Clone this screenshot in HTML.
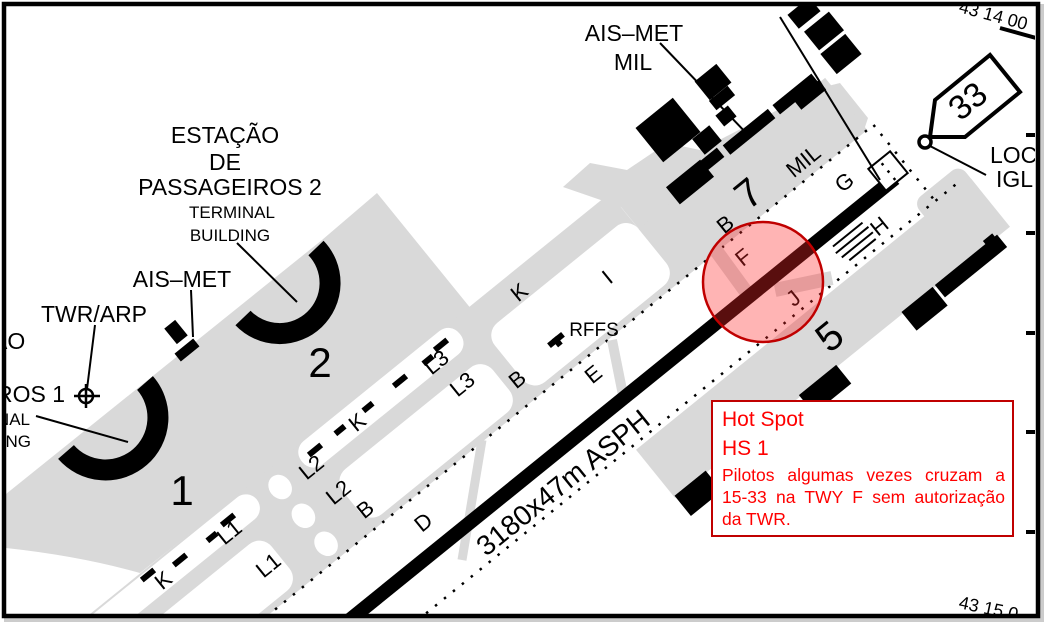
<!DOCTYPE html>
<html><head><meta charset="utf-8"><style>
html,body{margin:0;padding:0;background:#fff;}
body{width:1046px;height:623px;position:relative;overflow:hidden;font-family:"Liberation Sans",sans-serif;}
svg{position:absolute;left:0;top:0;}
.box{position:absolute;left:711px;top:400px;width:303px;height:137px;border:2.5px solid #c00000;background:#fff;color:#ff0000;box-sizing:border-box;overflow:hidden;}
.box .t{font-size:21px;line-height:21px;position:absolute;left:9px;}
.box .l{position:absolute;left:9px;width:283px;font-size:17.5px;line-height:19px;text-align:justify;text-align-last:justify;white-space:nowrap;}
</style></head><body>
<svg width="1046" height="623" viewBox="0 0 1046 623" font-family="Liberation Sans, sans-serif">
<defs><clipPath id="c"><rect x="6" y="6" width="1029" height="608"/></clipPath></defs>
<rect x="4" y="4" width="1040" height="618" fill="#9a9a9a" opacity="0.5"/>
<rect x="2" y="2" width="1038" height="616" fill="#fff"/>
<g clip-path="url(#c)">
<path d="M322,240 L377,193 L472,310 L140,573 Q80,556 6,548 L6,494 Z" fill="#d9d9d9"/>
<path d="M563,187 L590,163 L627,170 L667,143 L700,150 L820,88 L840,83 L868,118 L863,133 L681,281 L621,207 Z" fill="#d9d9d9"/>
<g transform="translate(762,286) rotate(-39)">
 <rect x="-950" y="-168" width="890" height="113" fill="#d9d9d9"/>
 <rect x="-70" y="-122" width="250" height="67" fill="#d9d9d9"/>
 <rect x="-201" y="48" width="431" height="62" fill="#d9d9d9"/>
 <rect x="170" y="30" width="60" height="40" fill="#d9d9d9" rx="10"/>
 <rect x="-950" y="-166" width="423" height="28" rx="14" fill="#fff"/>
 <rect x="-468" y="-168" width="203" height="30" rx="14" fill="#fff"/>
 <rect x="-950" y="-122" width="405" height="60" rx="16" fill="#fff"/>
 <rect x="-455" y="-120" width="193" height="58" rx="16" fill="#fff"/>
 <rect x="-245" y="-138" width="185" height="76" rx="16" fill="#fff"/>
 <ellipse cx="-501" cy="-147" rx="11" ry="13" fill="#fff"/>
 <ellipse cx="-501" cy="-110" rx="11" ry="13" fill="#fff"/>
 <ellipse cx="-501" cy="-74" rx="11" ry="13" fill="#fff"/>
 <line x1="-950" y1="-55" x2="182" y2="-55" stroke="#000" stroke-width="2.5" stroke-dasharray="2.5 9"/>
 <line x1="-950" y1="43" x2="215" y2="43" stroke="#000" stroke-width="2.5" stroke-dasharray="2.5 9"/>
 <line x1="188" y1="-55" x2="188" y2="45" stroke="#000" stroke-width="2.5" stroke-dasharray="2.5 9"/>
 <rect x="-200" y="108" width="40" height="26" fill="#000"/>
 <rect x="-40" y="108" width="48" height="24" fill="#000"/>
 <rect x="92" y="108" width="40" height="24" fill="#000"/>
 <rect x="135" y="108" width="80" height="16" fill="#000"/>
 <rect x="200" y="104" width="12" height="10" fill="#000"/>
 <rect x="-8" y="-136" width="60" height="12" fill="#000"/>
 <rect x="58" y="-134" width="58" height="12" fill="#000"/>
 <rect x="122" y="-134" width="50" height="12" fill="#000"/>
 <line x1="80" y1="14" x2="118" y2="14" stroke="#000" stroke-width="2"/>
 <line x1="78" y1="21" x2="120" y2="21" stroke="#000" stroke-width="2"/>
 <line x1="80" y1="28" x2="120" y2="28" stroke="#000" stroke-width="2"/>
 <line x1="84" y1="35" x2="118" y2="35" stroke="#000" stroke-width="2"/>
</g>
<line x1="752" y1="300" x2="712" y2="245" stroke="#d9d9d9" stroke-width="14"/>
<line x1="775" y1="290" x2="832" y2="278" stroke="#d9d9d9" stroke-width="14"/>
<line x1="624" y1="400" x2="612" y2="340" stroke="#d9d9d9" stroke-width="10"/>
<line x1="482" y1="440" x2="462" y2="560" stroke="#d9d9d9" stroke-width="9"/>
<g transform="translate(762,286) rotate(-39)"><rect x="-950" y="-7" width="1121" height="14" fill="#000"/></g>
<g transform="translate(888,171) rotate(-39)">
 <rect x="-14" y="-14" width="28" height="28" fill="#fff" stroke="#000" stroke-width="2"/>
 <line x1="0" y1="-10" x2="0" y2="12" stroke="#000" stroke-width="2.5" stroke-dasharray="2.5 7"/>
</g>
<g fill="#000">
 <g transform="translate(668,130) rotate(-39)"><rect x="-24" y="-22" width="48" height="44"/></g>
 <g transform="translate(707,140) rotate(-39)"><rect x="-11" y="-10" width="22" height="20"/></g>
 <g transform="translate(713,82) rotate(-39)"><rect x="-14" y="-12" width="28" height="24"/></g>
 <g transform="translate(722,98) rotate(-39)"><rect x="-12" y="-6" width="24" height="12"/></g>
 <g transform="translate(726,116) rotate(-39)"><rect x="-8" y="-7" width="16" height="14"/></g>
 <g transform="translate(690,182) rotate(-39)"><rect x="-22" y="-11" width="44" height="22"/></g>
 <g transform="translate(804,13) rotate(-39)"><rect x="-14" y="-9" width="28" height="18"/></g>
 <g transform="translate(824,31) rotate(-39)"><rect x="-16" y="-12" width="32" height="24"/></g>
 <g transform="translate(841,54) rotate(-39)"><rect x="-16" y="-13" width="32" height="26"/></g>
 <g transform="translate(810,95) rotate(-39)"><rect x="-16" y="-6" width="32" height="12"/></g>
</g>
<line x1="780" y1="17" x2="880" y2="180" stroke="#000" stroke-width="2"/>
<line x1="660" y1="43" x2="750" y2="137" stroke="#000" stroke-width="2"/>
<path d="M935,100 L990,55 L1020,92 L965,137 L930,137 Z" fill="#fff" stroke="#000" stroke-width="4"/>
<circle cx="925" cy="142" r="6" fill="#fff" stroke="#000" stroke-width="3.5"/>
<line x1="930" y1="146" x2="986" y2="175" stroke="#000" stroke-width="2"/>
<text transform="translate(975,110) rotate(-39)" font-size="34" text-anchor="middle">33</text>
<line x1="1000" y1="28" x2="1036" y2="38" stroke="#000" stroke-width="4"/>
<text transform="translate(958,12) rotate(15)" font-size="18">43 14 00</text>
<text transform="translate(958,608) rotate(12)" font-size="18">43 15 0</text>
<g stroke="#000" stroke-width="4">
 <line x1="1026" y1="135" x2="1036" y2="135"/><line x1="1026" y1="233" x2="1036" y2="233"/>
 <line x1="1026" y1="333" x2="1036" y2="333"/><line x1="1026" y1="432" x2="1036" y2="432"/>
 <line x1="1026" y1="532" x2="1036" y2="532"/>
</g>
<path d="M316,248 A47,47 0 1,1 243,318" fill="none" stroke="#000" stroke-width="21"/>
<path d="M145,383 A49,49 0 1,1 66,452" fill="none" stroke="#000" stroke-width="21"/>
<g transform="translate(176,332) rotate(-39)"><rect x="-7" y="-10" width="14" height="20" fill="#000"/></g>
<g transform="translate(187,350) rotate(-39)"><rect x="-12" y="-5" width="24" height="10" fill="#000"/></g>
<g fill="#000">
 <g transform="translate(441,345) rotate(-39)"><rect x="-8" y="-3" width="16" height="6"/></g>
 <g transform="translate(428,360) rotate(-39)"><rect x="-6" y="-3" width="12" height="6"/></g>
 <g transform="translate(400,381) rotate(-39)"><rect x="-8" y="-3" width="16" height="6"/></g>
 <g transform="translate(368,407) rotate(-39)"><rect x="-6" y="-3" width="12" height="6"/></g>
 <g transform="translate(340,430) rotate(-39)"><rect x="-6" y="-3" width="12" height="6"/></g>
 <g transform="translate(315,450) rotate(-39)"><rect x="-8" y="-3" width="16" height="6"/></g>
 <g transform="translate(228,520) rotate(-39)"><rect x="-8" y="-3" width="16" height="6"/></g>
 <g transform="translate(212,537) rotate(-39)"><rect x="-6" y="-3" width="12" height="6"/></g>
 <g transform="translate(180,560) rotate(-39)"><rect x="-8" y="-3" width="16" height="6"/></g>
 <g transform="translate(148,575) rotate(-39)"><rect x="-8" y="-3" width="16" height="6"/></g>
 <g transform="translate(556,340) rotate(-39)"><rect x="-9" y="-3" width="18" height="6"/><rect x="-3" y="-3" width="6" height="10"/></g>
</g>
<circle cx="86" cy="396" r="7" fill="none" stroke="#000" stroke-width="2.5"/>
<line x1="74" y1="396" x2="100" y2="396" stroke="#000" stroke-width="2.5"/>
<line x1="86" y1="384" x2="86" y2="408" stroke="#000" stroke-width="2.5"/>
<line x1="95" y1="325" x2="87" y2="389" stroke="#000" stroke-width="2"/>
<line x1="191" y1="290" x2="193" y2="337" stroke="#000" stroke-width="2"/>
<line x1="237" y1="243" x2="297" y2="302" stroke="#000" stroke-width="2"/>
<line x1="36" y1="416" x2="128" y2="442" stroke="#000" stroke-width="2"/>
<g font-size="23" text-anchor="middle">
 <text x="225" y="143">ESTAÇÃO</text>
 <text x="225" y="170">DE</text>
 <text x="230" y="195">PASSAGEIROS 2</text>
 <text x="232" y="218" font-size="17">TERMINAL</text>
 <text x="230" y="241" font-size="17">BUILDING</text>
 <text x="182" y="287">AIS–MET</text>
 <text x="94" y="322">TWR/ARP</text>
 <text x="634" y="41">AIS–MET</text>
 <text x="633" y="70">MIL</text>
</g>
<text x="-8" y="349" font-size="23">ÃO</text>
<text x="65" y="402" font-size="23" text-anchor="end">ROS 1</text>
<text x="30" y="425" font-size="17" text-anchor="end">NAL</text>
<text x="31" y="447" font-size="17" text-anchor="end">ING</text>
<text x="990" y="163" font-size="23">LOC</text>
<text x="996" y="187" font-size="23">IGL</text>
<text x="182" y="505" font-size="42" text-anchor="middle">1</text>
<text x="320" y="377" font-size="42" text-anchor="middle">2</text>
<text x="594" y="336" font-size="19" text-anchor="middle">RFFS</text>
<g font-size="22" text-anchor="middle">
 <text transform="translate(757,204) rotate(-39)" font-size="40">7</text>
 <text transform="translate(838,347) rotate(-39)" font-size="40">5</text>
 <text transform="translate(808,167) rotate(-39)">MIL</text>
 <text transform="translate(849,188) rotate(-39)">G</text>
 <text transform="translate(730,230) rotate(-39)">B</text>
 <text transform="translate(748,263) rotate(-39)">F</text>
 <text transform="translate(798,304) rotate(-39)">J</text>
 <text transform="translate(884,232) rotate(-39)">H</text>
 <text transform="translate(612,283) rotate(-39)">I</text>
 <text transform="translate(524,298) rotate(-39)">K</text>
 <text transform="translate(598,380) rotate(-39)">E</text>
 <text transform="translate(522,385) rotate(-39)">B</text>
 <text transform="translate(467,390) rotate(-39)">L3</text>
 <text transform="translate(441,368) rotate(-39)">L3</text>
 <text transform="translate(362,428) rotate(-39)">K</text>
 <text transform="translate(316,473) rotate(-39)">L2</text>
 <text transform="translate(343,498) rotate(-39)">L2</text>
 <text transform="translate(370,515) rotate(-39)">B</text>
 <text transform="translate(428,528) rotate(-39)">D</text>
 <text transform="translate(234,538) rotate(-39)">L1</text>
 <text transform="translate(168,586) rotate(-39)">K</text>
 <text transform="translate(273,571) rotate(-39)">L1</text>
 <text transform="translate(569,490) rotate(-39)" font-size="28">3180x47m ASPH</text>
</g>
<circle cx="763" cy="282" r="60" fill="rgba(255,40,40,0.35)" stroke="#c00000" stroke-width="2.5"/>
</g>
<rect x="4" y="4" width="1034" height="612" fill="none" stroke="#000" stroke-width="4.5"/>
</svg>
<div class="box">
 <div class="t" style="top:7px">Hot Spot</div>
 <div class="t" style="top:36px">HS 1</div>
 <div class="l" style="top:64px">Pilotos algumas vezes cruzam a</div>
 <div class="l" style="top:86px">15-33 na TWY F sem autorização</div>
 <div class="l" style="top:108px;text-align-last:left">da TWR.</div>
</div>
</body></html>
